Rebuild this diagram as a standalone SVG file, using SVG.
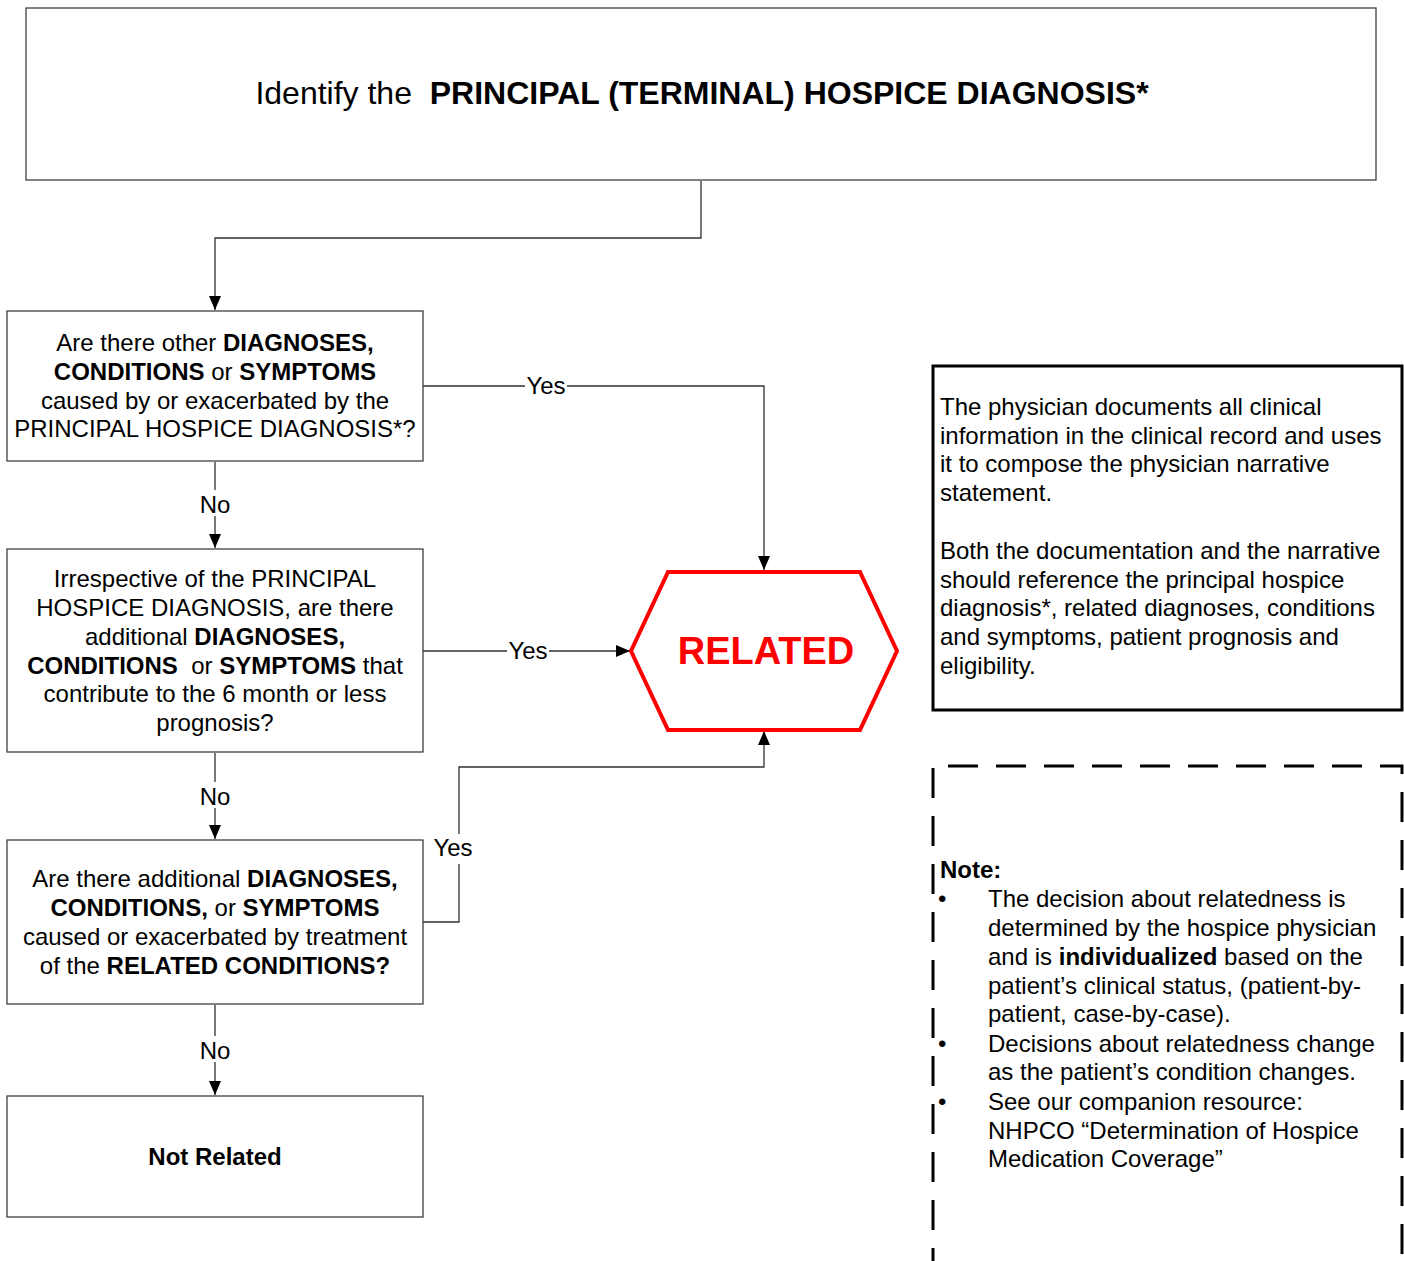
<svg xmlns="http://www.w3.org/2000/svg" width="1404" height="1261" viewBox="0 0 1404 1261">
<style>
text{font-family:"Liberation Sans",Arial,sans-serif;fill:#000}
.t{font-size:24px}
.c{text-anchor:middle}
.b{font-weight:bold}
.box{fill:#fff;stroke:#404040;stroke-width:1.3}
.con{fill:none;stroke:#303030;stroke-width:1.3}
.lbl{font-size:24px;text-anchor:middle}
.dash{fill:none;stroke:#000;stroke-width:3;stroke-dasharray:30 18}
.bul{fill:#000}
</style>
<defs>
<marker id="ah" markerUnits="userSpaceOnUse" markerWidth="14" markerHeight="14" viewBox="0 0 14 12" refX="14" refY="6" orient="auto">
<path d="M0,0 L14,6 L0,12 Z" fill="#000"/>
</marker>
</defs>
<rect width="1404" height="1261" fill="#fff"/>

<g id="connectors">
<path class="con" d="M701,181 V238 H215 V310" marker-end="url(#ah)"/>
<path class="con" d="M423,386 H764 V570" marker-end="url(#ah)"/>
<path class="con" d="M215,462 V548" marker-end="url(#ah)"/>
<path class="con" d="M423,651 H630" marker-end="url(#ah)"/>
<path class="con" d="M215,753 V839" marker-end="url(#ah)"/>
<path class="con" d="M423,922 H459 V767 H764 V731" marker-end="url(#ah)"/>
<path class="con" d="M215,1005 V1095" marker-end="url(#ah)"/>
<rect x="525" y="374" width="42" height="24" fill="#fff"/>
<text class="lbl" x="546" y="394">Yes</text>
<rect x="198" y="490" width="34" height="26" fill="#fff"/>
<text class="lbl" x="215" y="513">No</text>
<rect x="507" y="639" width="42" height="24" fill="#fff"/>
<text class="lbl" x="528" y="659">Yes</text>
<rect x="198" y="782" width="34" height="26" fill="#fff"/>
<text class="lbl" x="215" y="805">No</text>
<rect x="431" y="834" width="44" height="30" fill="#fff"/>
<text class="lbl" x="453" y="856">Yes</text>
<rect x="198" y="1036" width="34" height="26" fill="#fff"/>
<text class="lbl" x="215" y="1059">No</text>
</g>

<g id="start">
<rect class="box" x="26" y="8" width="1350" height="172"/>
<text x="702" y="104" style="font-size:32px" class="c" xml:space="preserve">Identify the  <tspan class="b">PRINCIPAL (TERMINAL) HOSPICE DIAGNOSIS*</tspan></text>
</g>

<g id="q1">
<rect class="box" x="7" y="311" width="416" height="150"/>
<text class="t c" x="215" y="351">Are there other <tspan class="b">DIAGNOSES,</tspan></text>
<text class="t c" x="215" y="380"><tspan class="b">CONDITIONS</tspan> or <tspan class="b">SYMPTOMS</tspan></text>
<text class="t c" x="215" y="409">caused by or exacerbated by the</text>
<text class="t c" x="215" y="437">PRINCIPAL HOSPICE DIAGNOSIS*?</text>
</g>

<g id="q2">
<rect class="box" x="7" y="549" width="416" height="203"/>
<text class="t c" x="215" y="587">Irrespective of the PRINCIPAL</text>
<text class="t c" x="215" y="616">HOSPICE DIAGNOSIS, are there</text>
<text class="t c" x="215" y="645">additional <tspan class="b">DIAGNOSES,</tspan></text>
<text class="t c" x="215" y="674" xml:space="preserve"><tspan class="b">CONDITIONS</tspan>  or <tspan class="b">SYMPTOMS</tspan> that</text>
<text class="t c" x="215" y="702">contribute to the 6 month or less</text>
<text class="t c" x="215" y="731">prognosis?</text>
</g>

<g id="q3">
<rect class="box" x="7" y="840" width="416" height="164"/>
<text class="t c" x="215" y="887">Are there additional <tspan class="b">DIAGNOSES,</tspan></text>
<text class="t c" x="215" y="916"><tspan class="b">CONDITIONS,</tspan> or <tspan class="b">SYMPTOMS</tspan></text>
<text class="t c" x="215" y="945">caused or exacerbated by treatment</text>
<text class="t c" x="215" y="974">of the <tspan class="b">RELATED CONDITIONS?</tspan></text>
</g>

<g id="notrelated">
<rect class="box" x="7" y="1096" width="416" height="121"/>
<text class="t c b" x="215" y="1165">Not Related</text>
</g>

<g id="related">
<polygon points="668,572 860,572 897,651 860,730 668,730 631,651" fill="#fff" stroke="#ff0000" stroke-width="4"/>
<text x="766" y="664" class="c b" style="font-size:38px;fill:#ff0000">RELATED</text>
</g>

<g id="physician-note">
<rect x="933" y="366" width="469" height="344" fill="#fff" stroke="#000" stroke-width="3"/>
<text class="t" x="940" y="415">The physician documents all clinical</text>
<text class="t" x="940" y="444">information in the clinical record and uses</text>
<text class="t" x="940" y="472">it to compose the physician narrative</text>
<text class="t" x="940" y="501">statement.</text>
<text class="t" x="940" y="559">Both the documentation and the narrative</text>
<text class="t" x="940" y="588">should reference the principal hospice</text>
<text class="t" x="940" y="616">diagnosis*, related diagnoses, conditions</text>
<text class="t" x="940" y="645">and symptoms, patient prognosis and</text>
<text class="t" x="940" y="674">eligibility.</text>
</g>

<g id="note">
<path class="dash" d="M948,766 H1402 V1270"/>
<path class="dash" d="M933,768 V1270"/>
<text class="t b" x="940" y="878">Note:</text>
<text class="t" x="938" y="907">•</text>
<text class="t" x="988" y="907">The decision about relatedness is</text>
<text class="t" x="988" y="936">determined by the hospice physician</text>
<text class="t" x="988" y="965">and is <tspan class="b">individualized</tspan> based on the</text>
<text class="t" x="988" y="994">patient’s clinical status, (patient-by-</text>
<text class="t" x="988" y="1022">patient, case-by-case).</text>
<text class="t" x="938" y="1052">•</text>
<text class="t" x="988" y="1052">Decisions about relatedness change</text>
<text class="t" x="988" y="1080">as the patient’s condition changes.</text>
<text class="t" x="938" y="1110">•</text>
<text class="t" x="988" y="1110">See our companion resource:</text>
<text class="t" x="988" y="1139">NHPCO “Determination of Hospice</text>
<text class="t" x="988" y="1167">Medication Coverage”</text>
</g>
</svg>
